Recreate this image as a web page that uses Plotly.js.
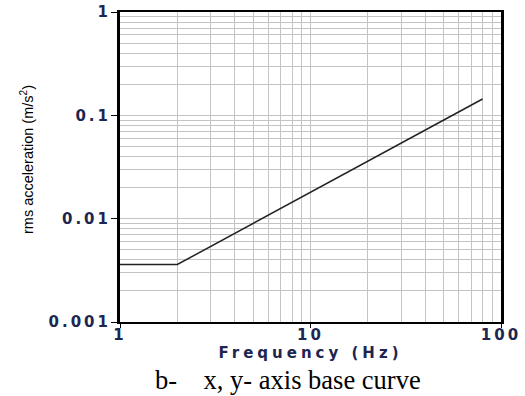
<!DOCTYPE html>
<html>
<head>
<meta charset="utf-8">
<script src="https://cdn.plot.ly/plotly-3.0.1.min.js"></script>
<style>
  html, body { margin: 0; padding: 0; background: #fff; }
  #chart { width: 525px; height: 396px; }
  .xtick text, .ytick text { letter-spacing: 3px; }
  .xtitle { letter-spacing: 4px; }
</style>
</head>
<body>
<div id="chart"></div>
<script>
// Base curve data (x, y axis): frequency in Hz, rms acceleration in m/s²
const frequency = [1, 2, 80];
const rmsAcceleration = [0.0036, 0.0036, 0.144];

// Tick values / labels
const xMajorTicks = [1, 10, 100];
const xMajorLabels = ['1', '10', '100'];
const xMinorTicks = [2, 3, 4, 5, 6, 7, 8, 9, 20, 30, 40, 50, 60, 70, 80, 90];
const yMajorTicks = [0.001, 0.01, 0.1, 1];
const yMajorLabels = ['0.001', '0.01', '0.1', '1'];
const yMinorTicks = [0.002, 0.003, 0.004, 0.005, 0.006, 0.007, 0.008, 0.009,
                     0.02, 0.03, 0.04, 0.05, 0.06, 0.07, 0.08, 0.09,
                     0.2, 0.3, 0.4, 0.5, 0.6, 0.7, 0.8, 0.9];

const xTitle = 'Frequency (Hz)';
const yTitle = 'rms acceleration (m/s<sup>2</sup>)';
const caption = 'b-\u00a0\u00a0\u00a0\u00a0x, y- axis base curve';

const navy = '#1d2650';
const tickFont = { family: 'DejaVu Sans', size: 15, color: navy, weight: 'bold' };
const gridColor = '#c4c4c4';

const trace = {
  x: frequency,
  y: rmsAcceleration,
  type: 'scatter',
  mode: 'lines',
  line: { color: '#222222', width: 1.5 },
  hoverinfo: 'none'
};

const layout = {
  width: 525,
  height: 396,
  margin: { l: 120, r: 24, t: 12, b: 74 },
  paper_bgcolor: '#ffffff',
  plot_bgcolor: '#ffffff',
  showlegend: false,
  xaxis: {
    type: 'log',
    range: [0, 2],
    tickmode: 'array',
    tickvals: xMajorTicks,
    ticktext: xMajorLabels,
    ticks: 'outside',
    ticklen: 4,
    tickwidth: 1,
    tickcolor: '#000',
    tickfont: tickFont,
    ticklabelstandoff: -6,
    showgrid: true,
    gridcolor: gridColor,
    gridwidth: 1,
    minor: { tickmode: 'array', tickvals: xMinorTicks, showgrid: true, gridcolor: gridColor, gridwidth: 1, ticks: '' },
    showline: true,
    linecolor: '#000',
    linewidth: 2,
    mirror: true,
    zeroline: false,
    title: { text: xTitle, font: { family: 'DejaVu Sans', size: 15, color: navy, weight: 'bold' }, standoff: 0 }
  },
  yaxis: {
    type: 'log',
    range: [-3, 0],
    tickmode: 'array',
    tickvals: yMajorTicks,
    ticktext: yMajorLabels,
    ticks: 'outside',
    ticklen: 6,
    tickwidth: 1,
    tickcolor: '#000',
    tickfont: tickFont,
    ticklabelstandoff: -3,
    showgrid: true,
    gridcolor: gridColor,
    gridwidth: 1,
    minor: { tickmode: 'array', tickvals: yMinorTicks, showgrid: true, gridcolor: gridColor, gridwidth: 1, ticks: '' },
    showline: true,
    linecolor: '#000',
    linewidth: 3,
    mirror: true,
    zeroline: false
  },
  annotations: [{
    text: yTitle,
    xref: 'paper', yref: 'paper',
    x: -0.244, y: 0.5226,
    xanchor: 'center', yanchor: 'middle',
    textangle: -90,
    showarrow: false,
    font: { family: 'Liberation Sans Narrow, Liberation Sans', size: 14.5, color: '#000' }
  }, {
    text: caption,
    xref: 'paper', yref: 'paper',
    x: 0.441, y: -0.187,
    xanchor: 'center', yanchor: 'middle',
    showarrow: false,
    font: { family: 'Liberation Serif', size: 26.5, color: '#000' }
  }]
};

Plotly.newPlot('chart', [trace], layout, { displayModeBar: false, staticPlot: true });
</script>
</body>
</html>
